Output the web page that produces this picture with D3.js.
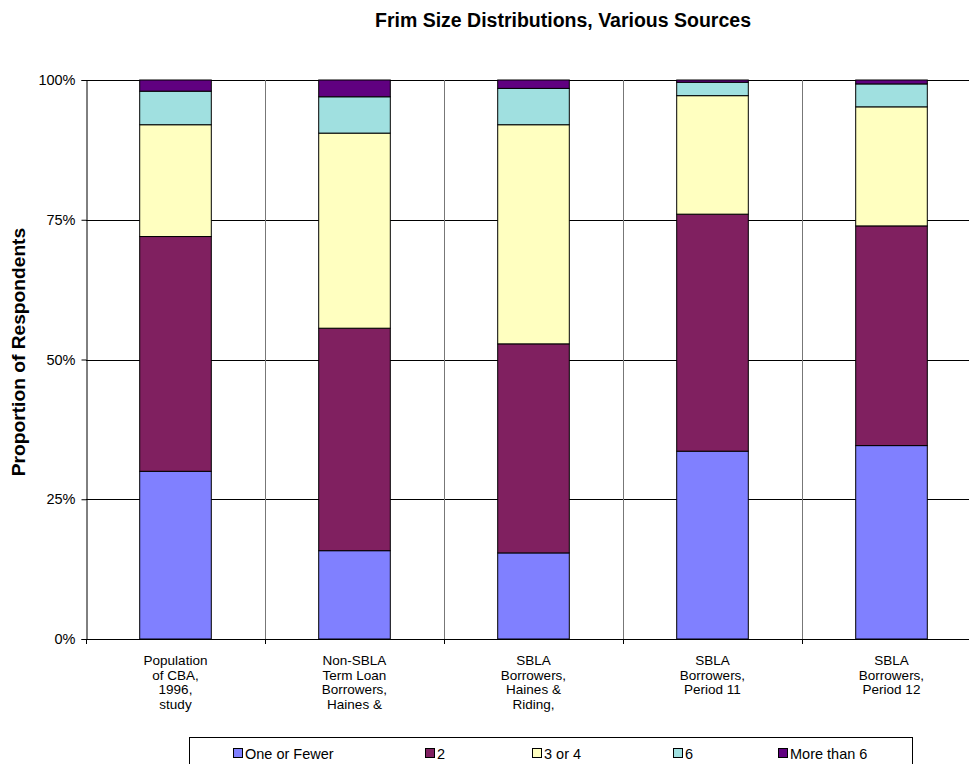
<!DOCTYPE html>
<html>
<head>
<meta charset="utf-8">
<script src="https://cdn.jsdelivr.net/npm/d3@7"></script>
<style>
  html, body { margin: 0; padding: 0; background: #fff; }
  svg { display: block; font-family: "Liberation Sans", Arial, sans-serif; }
</style>
</head>
<body>
<svg id="chart" width="969" height="764"></svg>
<script>
// Category keys and their wrapped axis labels (one entry per line)
const categories = ["CBA 1996", "Non-SBLA H&R", "SBLA H&R", "SBLA P11", "SBLA P12"];
const categoryLabels = [
  ["Population", "of CBA,", "1996,", "study"],
  ["Non-SBLA", "Term Loan", "Borrowers,", "Haines &"],
  ["SBLA", "Borrowers,", "Haines &", "Riding,"],
  ["SBLA", "Borrowers,", "Period 11"],
  ["SBLA", "Borrowers,", "Period 12"]
];

// Firm size groups (percent of respondents per source)
const seriesNames = ["One or Fewer", "2", "3 or 4", "6", "More than 6"];
const oneOrFewer  = [30.0, 15.8, 15.4, 33.6, 34.6];
const two         = [42.0, 39.8, 37.4, 42.4, 39.3];
const threeOrFour = [20.0, 34.9, 39.2, 21.2, 21.3];
const six         = [ 6.0,  6.5,  6.5,  2.4,  4.1];
const moreThanSix = [ 2.0,  3.0,  1.5,  0.4,  0.7];
const seriesColors = ["#8080FF", "#802060", "#FFFFC0", "#A0E0E0", "#600080"];

const yTicks = [0, 25, 50, 75, 100];
const yTickLabels = ["0%", "25%", "50%", "75%", "100%"];

const svg = d3.select("#chart");
const plot = { left: 86, top: 80, bottom: 639, right: 981 };

const rows = categories.map((c, i) => ({
  cat: c,
  "One or Fewer": oneOrFewer[i],
  "2": two[i],
  "3 or 4": threeOrFour[i],
  "6": six[i],
  "More than 6": moreThanSix[i]
}));
const stacked = d3.stack().keys(seriesNames)(rows);

const x = d3.scaleBand().domain(categories)
  .range([plot.left, plot.right]).paddingInner(0.6).paddingOuter(0.3);
const step = x.step();
const boundary = c => Math.round(x(c) - step * 0.3) + 0.5;
const y = d3.scaleLinear().domain([0, 100]).range([plot.bottom, plot.top]);

// Horizontal gridlines
svg.append("g").selectAll("line").data(yTicks.filter(d => d > 0)).join("line")
  .attr("x1", plot.left).attr("x2", plot.right)
  .attr("y1", d => Math.round(y(d)) + 0.5).attr("y2", d => Math.round(y(d)) + 0.5)
  .attr("stroke", "#000").attr("stroke-width", 1);

// Vertical gridlines at category boundaries
svg.append("g").selectAll("line").data(categories.slice(1)).join("line")
  .attr("x1", boundary).attr("x2", boundary)
  .attr("y1", plot.top).attr("y2", plot.bottom)
  .attr("stroke", "#777").attr("stroke-width", 1);

// Stacked bars
svg.append("g").selectAll("g").data(stacked).join("g")
  .attr("fill", (d, i) => seriesColors[i])
  .selectAll("rect").data(d => d).join("rect")
  .attr("x", d => x(d.data.cat))
  .attr("width", x.bandwidth())
  .attr("y", d => y(d[1]))
  .attr("height", d => y(d[0]) - y(d[1]))
  .attr("stroke", "#000").attr("stroke-width", 1);

// Y axis
const yAxis = d3.axisLeft(y).tickValues(yTicks)
  .tickFormat((d, i) => yTickLabels[i]).tickSizeOuter(0).tickSize(5).tickPadding(6);
const gy = svg.append("g").attr("transform", `translate(${plot.left + 0.5},0)`).call(yAxis);
gy.select(".domain").attr("stroke", "#000");
gy.selectAll("line").attr("stroke", "#000");
gy.selectAll("text").attr("font-size", 14.5).attr("fill", "#000")
  .attr("font-family", "Liberation Sans, Arial, sans-serif");

// X axis with ticks at category boundaries
svg.append("line")
  .attr("x1", plot.left).attr("x2", plot.right)
  .attr("y1", plot.bottom + 0.5).attr("y2", plot.bottom + 0.5)
  .attr("stroke", "#000");
svg.append("g").selectAll("line").data(categories).join("line")
  .attr("x1", boundary).attr("x2", boundary)
  .attr("y1", plot.bottom).attr("y2", plot.bottom + 5)
  .attr("stroke", "#000");

// Category labels
const xl = svg.append("g").attr("font-size", 13.5).attr("text-anchor", "middle").attr("fill", "#000");
categories.forEach((c, i) => {
  const cx = x(c) + x.bandwidth() / 2;
  categoryLabels[i].forEach((line, j) => {
    xl.append("text").attr("x", cx).attr("y", 665 + j * 14.7).text(line);
  });
});

// Title
svg.append("text").attr("x", 563).attr("y", 27)
  .attr("text-anchor", "middle").attr("font-size", 19.5).attr("font-weight", "bold")
  .text("Frim Size Distributions, Various Sources");

// Y axis title
svg.append("text")
  .attr("transform", "translate(25,352) rotate(-90)")
  .attr("text-anchor", "middle").attr("font-size", 19.2).attr("font-weight", "bold")
  .text("Proportion of Respondents");

// Legend
const legendBox = { x: 189, y: 737, w: 723, h: 40 };
const legendItemX = [233, 425, 532, 673, 778];
const lg = svg.append("g");
lg.append("rect").attr("x", legendBox.x + 0.5).attr("y", legendBox.y + 0.5)
  .attr("width", legendBox.w).attr("height", legendBox.h)
  .attr("fill", "#fff").attr("stroke", "#000");
seriesNames.forEach((name, i) => {
  lg.append("rect").attr("x", legendItemX[i] + 0.5).attr("y", 748.5)
    .attr("width", 9).attr("height", 9)
    .attr("fill", seriesColors[i]).attr("stroke", "#000");
  lg.append("text").attr("x", legendItemX[i] + 12).attr("y", 758.5)
    .attr("font-size", 14.5).text(name);
});
</script>
</body>
</html>
